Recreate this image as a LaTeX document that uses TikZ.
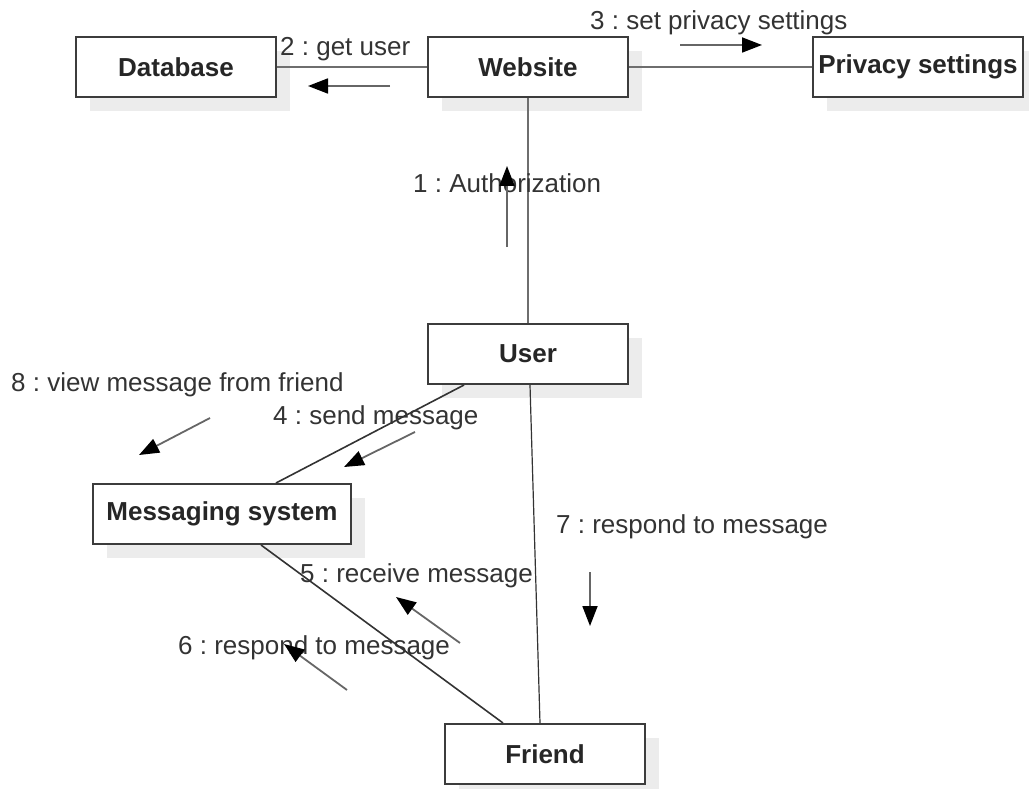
\documentclass[tikz,border=0pt]{standalone}
\usepackage{fontspec}
\setmainfont{Liberation Sans}
\frenchspacing
\usetikzlibrary{arrows.meta}
\definecolor{shade}{RGB}{236,236,236}
\definecolor{edge}{RGB}{60,60,60}
\definecolor{wire}{RGB}{110,110,110}
\definecolor{txt}{RGB}{51,51,51}
\begin{document}
\begin{tikzpicture}[x=1pt,y=-1pt,
  obj/.style={draw=edge, line width=2pt, fill=white, minimum height=60pt,
    inner sep=0pt, font=\fontsize{26}{30}\selectfont\bfseries, text=black!85,
    preaction={fill=shade, draw=none, transform canvas={xshift=14pt, yshift=-14pt}}},
  link/.style={draw=wire, line width=2pt},
  diag/.style={draw=black!80, line width=1.6pt},
  msg/.style={anchor=base west, inner sep=0pt, text=txt,
    font=\fontsize{26}{30}\selectfont},
  flow/.style={draw=black!60, line width=1.8pt,
    -{Triangle[length=20pt,width=15pt,color=black]}}]
\useasboundingbox (0,0) rectangle (1029,789);

% objects
\node[obj, minimum width=200pt] (db)   at (176,67)  {Database};
\node[obj, minimum width=200pt] (web)  at (528,67)  {Website};
\node[obj, minimum width=210pt] (priv) at (918,67)  {Privacy settings};
\node[obj, minimum width=200pt] (user) at (528,354) {User};
\node[obj, minimum width=258pt] (msys) at (222,514) {Messaging system};
\node[obj, minimum width=200pt] (fr)   at (545,754) {Friend};

% attachment points of the slanted links
\coordinate (uA) at ([xshift=37pt]user.south west);
\coordinate (uB) at ([xshift=2pt]user.south);
\coordinate (mA) at ([xshift=184pt]msys.north west);
\coordinate (mB) at ([xshift=169pt]msys.south west);
\coordinate (fA) at ([xshift=59pt]fr.north west);
\coordinate (fB) at ([xshift=96pt]fr.north west);

% links
\draw[link] (db) -- (web);
\draw[link] (web) -- (priv);
\draw[link] (web.south) -- (user.north);
\draw[diag] (uA) -- (mA);
\draw[diag, line width=1.2pt] (uB) -- (fB);
\draw[diag] (mB) -- (fA);

% message labels
\node[msg] (l1) at (413,193) {1 : Authorization};
\node[msg] (l2) at (280,56)  {2 : get user};
\node[msg] (l3) at (590,30)  {3 : set privacy settings};
\node[msg] (l4) at (273,424) {4 : send message};
\node[msg] (l5) at (300,582) {5 : receive message};
\node[msg] (l6) at (178,654) {6 : respond to message};
\node[msg] (l7) at (556,533) {7 : respond to message};
\node[msg] (l8) at (11,391)  {8 : view message from friend};

% message direction arrows
\coordinate (a1s) at (507,247); \coordinate (a1e) at (507,166);
\coordinate (a2s) at (390,86);  \coordinate (a2e) at (308,86);
\coordinate (a3s) at (680,45);  \coordinate (a3e) at (762,45);
\coordinate (a4s) at (415,432); \coordinate (a4e) at (344,467);
\coordinate (a5s) at (460,643); \coordinate (a5e) at (396,597);
\coordinate (a6s) at (347,690); \coordinate (a6e) at (284,644);
\coordinate (a7s) at (590,572); \coordinate (a7e) at (590,626);
\coordinate (a8s) at (210,418); \coordinate (a8e) at (139,455);
\foreach \k in {1,...,8} {\draw[flow] (a\k s) -- (a\k e);}
\end{tikzpicture}
\end{document}
